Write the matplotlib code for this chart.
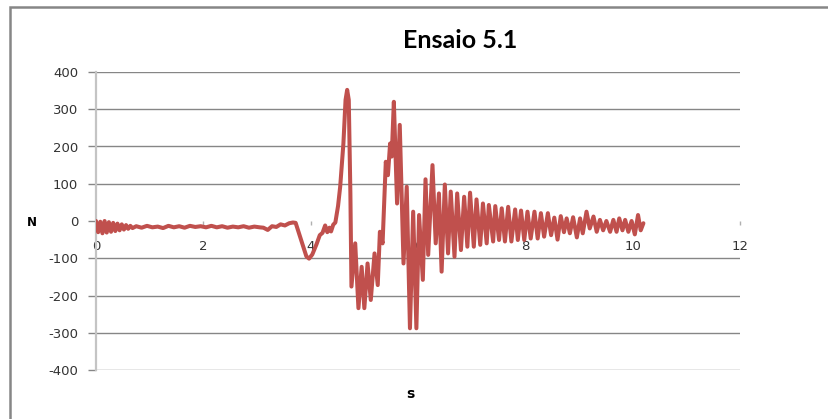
import matplotlib
matplotlib.use("Agg")
import matplotlib.pyplot as plt
from matplotlib.patches import Rectangle
import numpy as np

# Time (s) and force (N) samples, grouped by test phase
t_settle = [0.00, 0.04, 0.08, 0.12, 0.16, 0.20, 0.24, 0.28, 0.32, 0.36,
            0.40, 0.44, 0.48, 0.52, 0.56, 0.60, 0.64, 0.68]
f_settle = [0, -30, -2, -33, 0, -31, -3, -29, -5, -27,
            -7, -25, -9, -23, -11, -21, -13, -19]

t_rest = [0.75, 0.85, 0.95, 1.05, 1.15, 1.25, 1.35, 1.45, 1.55, 1.65,
          1.75, 1.85, 1.95, 2.05, 2.15, 2.25, 2.35, 2.45, 2.55, 2.65,
          2.75, 2.85, 2.95, 3.05, 3.12, 3.20, 3.28, 3.36, 3.44, 3.52,
          3.60, 3.67, 3.72]
f_rest = [-14, -18, -13, -17, -15, -19, -13, -17, -14, -18,
          -13, -16, -14, -17, -13, -17, -14, -18, -15, -17,
          -14, -18, -15, -17, -18, -24, -14, -16, -9, -12,
          -6, -4, -5]

t_impact = [3.83, 3.92, 3.97, 4.03, 4.11, 4.17, 4.22, 4.27, 4.31, 4.35,
            4.38, 4.42, 4.46, 4.51, 4.55, 4.61, 4.65, 4.68, 4.71, 4.74,
            4.76, 4.83, 4.89, 4.95, 5.00, 5.06, 5.12, 5.19, 5.25, 5.29,
            5.34, 5.40, 5.44, 5.48, 5.51, 5.55, 5.61, 5.66, 5.73, 5.79,
            5.85, 5.91, 5.97, 6.02, 6.09, 6.14, 6.19]
f_impact = [-55, -95, -101, -90, -62, -38, -32, -12, -30, -18,
            -28, -10, -4, 40, 92, 208, 325, 352, 325, 74,
            -176, -60, -234, -123, -234, -114, -212, -87, -172, -29,
            -60, 159, 123, 208, 173, 320, 47, 258, -114, 92,
            -288, 25, -288, 16, -158, 112, -91]

t_decay = [6.27, 6.33, 6.39, 6.44, 6.50, 6.56, 6.61, 6.68, 6.73, 6.80,
           6.86, 6.92, 6.97, 7.04, 7.09, 7.16, 7.21, 7.28, 7.32, 7.40,
           7.44, 7.51, 7.56, 7.62, 7.68, 7.74, 7.81, 7.86, 7.92, 7.98,
           8.04, 8.10, 8.17, 8.23, 8.29, 8.35, 8.42, 8.48, 8.54, 8.60,
           8.66, 8.72, 8.77, 8.83, 8.89, 8.96, 9.02, 9.07, 9.14, 9.20,
           9.27, 9.33, 9.39, 9.45, 9.51, 9.58, 9.64, 9.70, 9.75, 9.81,
           9.86, 9.92, 9.98, 10.04, 10.10, 10.15, 10.20]
f_decay = [150, -60, 74, -136, 98, -87, 79, -96, 74, -78,
           65, -69, 76, -69, 58, -64, 47, -60, 43, -55,
           40, -51, 34, -55, 38, -55, 31, -51, 28, -51,
           25, -47, 25, -47, 21, -42, 21, -38, 9, -50,
           13, -30, 7, -33, 10, -44, 7, -33, 25, -20,
           12, -29, 3, -25, 0, -29, 3, -29, 7, -25,
           3, -29, 0, -36, 16, -25, -6]

x_ticks = [0, 2, 4, 6, 8, 10, 12]
y_ticks = [-400, -300, -200, -100, 0, 100, 200, 300, 400]

time_s = np.concatenate([t_settle, t_rest, t_impact, t_decay])
force_n = np.concatenate([f_settle, f_rest, f_impact, f_decay])

W, H = 829, 419
fig = plt.figure(figsize=(W / 100, H / 100), dpi=100)
fig.patch.set_facecolor("white")

# chart-area frame (only its top and left edges fall inside the canvas)
fig.patches.append(Rectangle((10 / W, -0.5), 2.0, 1.5 - 7 / H,
                             transform=fig.transFigure, fill=False,
                             ec="#868686", lw=1.8))

ax = fig.add_axes([96 / W, (H - 370) / H, 644 / W, 298 / H])
ax.set_xlim(0, 12)
ax.set_ylim(-400, 400)

grid_color = "#868686"
ax.hlines([v for v in y_ticks if v != 0], 0, 12, color=grid_color,
          lw=1.0, zorder=1)

ax.plot(time_s, force_n, color="#C0504D", lw=2.9, zorder=3,
        solid_joinstyle="round", solid_capstyle="round")

for s in ("top", "right"):
    ax.spines[s].set_visible(False)
ax.spines["left"].set_color("#c4c4c4")
ax.spines["left"].set_linewidth(1.6)
ax.spines["bottom"].set_position(("data", 0))
ax.spines["bottom"].set_color("none")

ax.set_yticks(y_ticks)
ax.set_yticklabels([str(v) for v in y_ticks])
ax.set_xticks(x_ticks)
ax.set_xticklabels([str(v) for v in x_ticks])

ax.tick_params(axis="y", direction="out", length=5.8, width=1.0,
               color=grid_color, pad=7, labelsize=9.5, labelcolor="#333333")
ax.tick_params(axis="x", direction="out", length=3, width=1.0,
               color="#b0b0b0", pad=11, labelsize=9.5, labelcolor="#333333")
for lab in ax.get_xticklabels() + ax.get_yticklabels():
    lab.set_family("DejaVu Sans")

fig.text(460 / W, 1 - 48.5 / H, "Ensaio 5.1", ha="center", va="baseline",
         fontsize=18, fontweight="bold", family="Lato", color="black")
fig.text(32 / W, 1 - 223 / H, "N", ha="center", va="center",
         fontsize=8.5, fontweight="bold", family="DejaVu Sans")
fig.text(410 / W, 1 - 394 / H, "s", ha="center", va="center",
         fontsize=10, fontweight="bold", family="DejaVu Sans")

fig.savefig("out.png", dpi=100)
